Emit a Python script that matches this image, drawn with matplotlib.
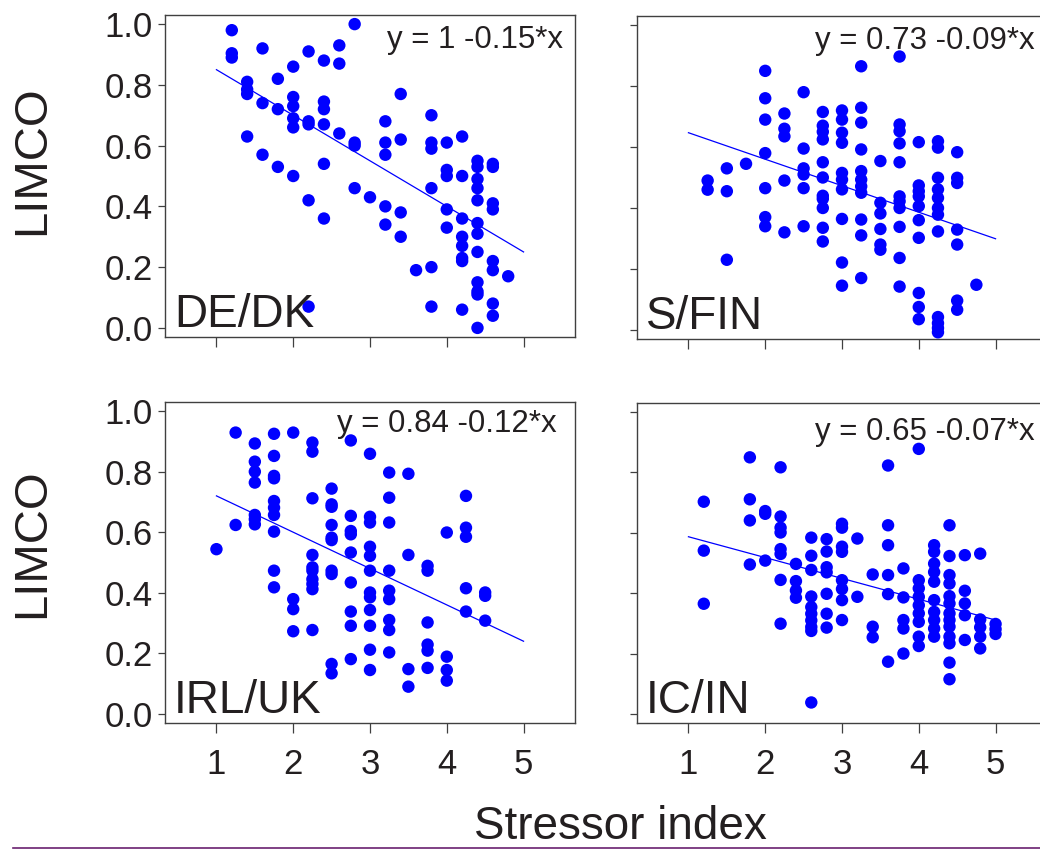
import matplotlib
matplotlib.use("Agg")
import matplotlib.pyplot as plt
from matplotlib.lines import Line2D
import numpy as np

plt.rcParams['font.family'] = ['Liberation Sans', 'DejaVu Sans']

# ---------------- data ----------------
panel_names = ["DE/DK", "S/FIN", "IRL/UK", "IC/IN"]
equations = ["y = 1 -0.15*x", "y = 0.73 -0.09*x", "y = 0.84 -0.12*x", "y = 0.65 -0.07*x"]
line_intercepts = [1.0, 0.734, 0.84, 0.656]
line_slopes = [-0.15, -0.087, -0.12, -0.069]

dedk_x = [1.2, 1.4, 1.6, 1.8, 2.0, 2.2, 2.4, 2.6, 2.8, 3.0, 3.2, 3.4, 3.6, 3.8, 4.0, 4.2, 4.4, 4.6, 4.8]
dedk_y = [
    [0.98, 0.904, 0.89],
    [0.81, 0.785, 0.77, 0.63],
    [0.92, 0.74, 0.57],
    [0.82, 0.72, 0.53],
    [0.86, 0.76, 0.73, 0.69, 0.66, 0.50],
    [0.91, 0.68, 0.67, 0.42, 0.07],
    [0.88, 0.745, 0.72, 0.67, 0.54, 0.36],
    [0.93, 0.87, 0.64],
    [1.0, 0.61, 0.60, 0.46],
    [0.43],
    [0.68, 0.61, 0.57, 0.40, 0.34],
    [0.77, 0.62, 0.38, 0.30],
    [0.19],
    [0.70, 0.61, 0.59, 0.46, 0.20, 0.07],
    [0.61, 0.52, 0.50, 0.39, 0.33],
    [0.63, 0.50, 0.36, 0.30, 0.27, 0.23, 0.22, 0.06],
    [0.55, 0.53, 0.49, 0.46, 0.42, 0.345, 0.31, 0.25, 0.15, 0.12, 0.11, 0.0],
    [0.54, 0.53, 0.41, 0.39, 0.22, 0.19, 0.08, 0.04],
    [0.17],
]

sfin_x = [1.25, 1.5, 1.75, 2.0, 2.25, 2.5, 2.75, 3.0, 3.25, 3.5, 3.75, 4.0, 4.25, 4.5, 4.75]
sfin_y = [
    [0.49, 0.46],
    [0.53, 0.455, 0.23],
    [0.545],
    [0.85, 0.76, 0.69, 0.58, 0.465, 0.37, 0.34],
    [0.71, 0.66, 0.635, 0.49, 0.32],
    [0.78, 0.595, 0.53, 0.51, 0.465, 0.34],
    [0.715, 0.67, 0.65, 0.625, 0.55, 0.50, 0.44, 0.43, 0.40, 0.335, 0.29],
    [0.72, 0.69, 0.647, 0.614, 0.515, 0.493, 0.461, 0.364, 0.221, 0.145],
    [0.865, 0.729, 0.68, 0.592, 0.521, 0.493, 0.471, 0.45, 0.362, 0.31, 0.17],
    [0.554, 0.417, 0.382, 0.331, 0.28, 0.263],
    [0.897, 0.674, 0.652, 0.612, 0.55, 0.438, 0.422, 0.40, 0.338, 0.236, 0.142],
    [0.616, 0.474, 0.455, 0.438, 0.406, 0.36, 0.302, 0.121, 0.075, 0.035],
    [0.619, 0.598, 0.499, 0.461, 0.433, 0.40, 0.378, 0.323, 0.042, 0.022, 0.006, -0.008],
    [0.583, 0.499, 0.482, 0.329, 0.28, 0.096, 0.066],
    [0.148],
]

irluk_x = [1.0, 1.25, 1.5, 1.75, 2.0, 2.25, 2.5, 2.75, 3.0, 3.25, 3.5, 3.75, 4.0, 4.25, 4.5]
irluk_y = [
    [0.544],
    [0.929, 0.624],
    [0.893, 0.833, 0.80, 0.764, 0.657, 0.643, 0.626],
    [0.925, 0.852, 0.786, 0.778, 0.703, 0.681, 0.657, 0.602, 0.473, 0.418],
    [0.929, 0.379, 0.346, 0.273],
    [0.896, 0.866, 0.712, 0.525, 0.484, 0.473, 0.445, 0.429, 0.412, 0.277],
    [0.744, 0.692, 0.684, 0.624, 0.582, 0.574, 0.473, 0.462, 0.165, 0.134],
    [0.903, 0.654, 0.604, 0.593, 0.533, 0.434, 0.338, 0.291, 0.181],
    [0.859, 0.651, 0.632, 0.552, 0.522, 0.473, 0.401, 0.385, 0.343, 0.291, 0.212, 0.145],
    [0.797, 0.714, 0.632, 0.473, 0.407, 0.379, 0.31, 0.277, 0.203],
    [0.793, 0.525, 0.148, 0.09],
    [0.489, 0.473, 0.302, 0.229, 0.209, 0.152],
    [0.599, 0.189, 0.145, 0.11],
    [0.72, 0.615, 0.585, 0.415, 0.338],
    [0.401, 0.39, 0.308],
]

icin_x = [1.2, 1.8, 2.0, 2.2, 2.4, 2.6, 2.8, 3.0, 3.2, 3.4, 3.6, 3.8, 4.0, 4.2, 4.4, 4.6, 4.8, 5.0]
icin_y = [
    [0.703, 0.541, 0.365],
    [0.85, 0.711, 0.641, 0.495],
    [0.672, 0.663, 0.508],
    [0.817, 0.654, 0.617, 0.601, 0.546, 0.53, 0.444, 0.299],
    [0.497, 0.44, 0.409, 0.385],
    [0.584, 0.524, 0.477, 0.389, 0.354, 0.332, 0.31, 0.288, 0.275, 0.038],
    [0.579, 0.538, 0.486, 0.469, 0.398, 0.332, 0.286],
    [0.63, 0.617, 0.554, 0.537, 0.443, 0.414, 0.377, 0.311],
    [0.581, 0.388],
    [0.462, 0.289, 0.254],
    [0.823, 0.625, 0.559, 0.46, 0.397, 0.173],
    [0.482, 0.386, 0.311, 0.283, 0.20],
    [0.878, 0.443, 0.416, 0.388, 0.36, 0.333, 0.305, 0.256, 0.225],
    [0.559, 0.537, 0.498, 0.47, 0.438, 0.377, 0.338, 0.311, 0.283, 0.256],
    [0.625, 0.523, 0.46, 0.432, 0.39, 0.366, 0.333, 0.311, 0.289, 0.256, 0.234, 0.17, 0.115],
    [0.526, 0.408, 0.366, 0.327, 0.245],
    [0.531, 0.313, 0.287, 0.256, 0.217],
    [0.298, 0.281, 0.265],
]

panel_x = [dedk_x, sfin_x, irluk_x, icin_x]
panel_y = [dedk_y, sfin_y, irluk_y, icin_y]

x_ticks = [1, 2, 3, 4, 5]
y_ticks = [0.0, 0.2, 0.4, 0.6, 0.8, 1.0]
y_label = "LIMCO"
x_label = "Stressor index"

# ---------------- layout ----------------
W, H = 1040, 850
fig = plt.figure(figsize=(W / 100, H / 100), dpi=100)
text_color = "#231f20"
frame_color = "#404040"

# axes boxes in pixels: left, top, right, bottom
boxes = [(165, 15, 575, 337), (637, 16, 1047, 339), (165, 402, 575, 723), (637, 403, 1047, 723)]
eq_pos = [(0.971, 0.897), (0.971, 0.898), (0.956, 0.907), (0.971, 0.884)]

for i in range(4):
    l, t, r, b = boxes[i]
    ax = fig.add_axes([l / W, 1 - b / H, (r - l) / W, (b - t) / H])
    xs, ys = [], []
    for xv, col in zip(panel_x[i], panel_y[i]):
        for yv in col:
            xs.append(xv)
            ys.append(yv)
    ax.scatter(xs, ys, s=80, color="#0000ff", edgecolors="none", zorder=3)
    lx = np.array([1.0, 5.0])
    ax.plot(lx, line_intercepts[i] + line_slopes[i] * lx, color="#0000ff", lw=0.9, zorder=2)
    ax.set_xlim(0.33, 5.67)
    ax.set_ylim(-0.03, 1.03)
    ax.set_xticks(x_ticks)
    ax.set_yticks(y_ticks)
    ax.tick_params(axis='x', direction='out', length=7, width=0.9, color=frame_color,
                   labelsize=25, labelcolor=text_color, pad=11)
    ax.tick_params(axis='y', direction='out', length=5, width=0.9, color=frame_color,
                   labelsize=25, labelcolor=text_color, pad=4)
    ax.set_xticklabels([str(v) for v in x_ticks])
    if i in (0, 2):
        ax.set_yticklabels(["%.1f" % v for v in y_ticks])
    else:
        ax.set_yticklabels([])
    if i in (0, 1):
        ax.set_xticklabels([])
    for sp in ax.spines.values():
        sp.set_color(frame_color)
        sp.set_linewidth(1.0)
    ax.text(0.022, 0.03, panel_names[i], transform=ax.transAxes, fontsize=33,
            color=text_color, ha='left', va='baseline', zorder=4)
    ex, ey = eq_pos[i]
    ax.text(ex, ey, equations[i], transform=ax.transAxes, fontsize=22.5,
            color=text_color, ha='right', va='baseline', zorder=4)

fig.text(32 / W, 1 - 160 / H, y_label, rotation=90, fontsize=34, color=text_color,
         ha='center', va='center')
fig.text(32 / W, 1 - 543 / H, y_label, rotation=90, fontsize=34, color=text_color,
         ha='center', va='center')
fig.text(620 / W, 1 - 827 / H, x_label, fontsize=33, color=text_color,
         ha='center', va='center')

fig.add_artist(Line2D([13 / W, 1.0], [1 - 848 / H, 1 - 848 / H], transform=fig.transFigure,
                      color="#6a2070", lw=1.2))

fig.savefig("out.png", dpi=100)
